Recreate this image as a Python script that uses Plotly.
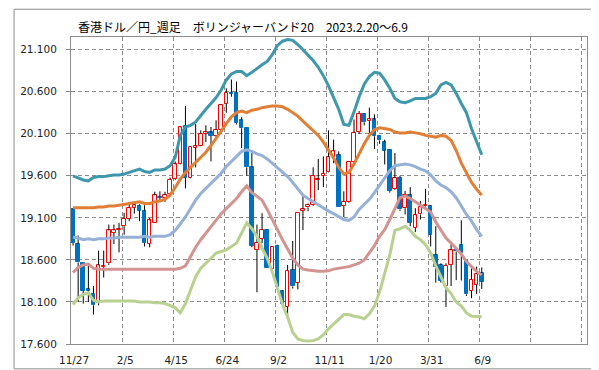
import plotly.graph_objects as go

# ---- data (weekly OHLC, index 0 = 11/27) ----
open_ = [19.20, 18.79, 18.56, 18.254, 18.20, 18.09, 18.515, 18.56, 18.92, 18.955,
         19.00, 19.09, 19.22, 19.24, 19.185, 18.79, 19.04, 19.35, 19.34, 19.38,
         19.56, 19.735, 20.195, 19.575, 19.935, 19.96, 20.10, 20.115, 20.075, 20.14,
         20.455, 20.59, 20.59, 20.26, 20.165, 19.70, 18.72, 18.85, 18.955, 18.49,
         18.77, 18.235, 18.04, 18.48, 18.33, 19.185, 19.225, 19.25, 19.55, 19.60,
         19.645, 19.82, 19.845, 19.24, 19.29, 19.765, 20.12, 20.335, 20.25, 20.27,
         20.075, 20.00, 19.905, 19.44, 19.575, 19.215, 19.37, 18.98, 19.14, 19.235,
         19.245, 18.66, 18.54, 18.285, 18.54, 18.72, 18.775, 18.60, 18.235, 18.305,
         18.445]
high = [19.21, 18.89, 18.56, 18.55, 18.29, 18.71, 18.71, 19.02, 19.02, 19.04,
        19.16, 19.29, 19.29, 19.26, 19.25, 19.10, 19.41, 19.415, 19.41, 19.58,
        19.77, 20.18, 20.43, 19.95, 20.215, 20.14, 20.20, 20.18, 20.26, 20.45,
        20.64, 20.745, 20.72, 20.30, 20.17, 19.87, 19.02, 19.155, 18.96, 18.76,
        18.78, 18.24, 18.54, 18.825, 19.16, 19.37, 19.27, 19.70, 19.80, 19.83,
        20.14, 20.03, 19.89, 19.415, 19.77, 20.27, 20.37, 20.34, 20.41, 20.33,
        20.08, 20.03, 19.91, 19.87, 19.60, 19.42, 19.465, 19.215, 19.30, 19.445,
        19.25, 19.00, 18.56, 18.56, 18.81, 18.74, 19.07, 18.60, 18.50, 18.52,
        18.51]
low = [18.77, 18.10, 18.08, 18.10, 17.95, 18.06, 18.39, 18.54, 18.79, 18.69,
       18.90, 19.06, 19.15, 19.06, 18.76, 18.75, 19.04, 19.29, 19.29, 19.37,
       19.55, 19.73, 19.45, 19.57, 19.70, 19.95, 20.00, 19.77, 20.05, 20.13,
       20.35, 20.54, 20.21, 19.93, 19.60, 18.75, 18.215, 18.80, 18.50, 18.465,
       18.27, 18.06, 17.91, 18.26, 18.25, 18.955, 19.18, 19.24, 19.43, 19.465,
       19.64, 19.75, 19.23, 19.11, 19.28, 19.76, 20.10, 20.20, 20.10, 19.92,
       19.98, 19.735, 19.40, 19.43, 19.18, 19.14, 19.00, 18.93, 19.08, 19.20,
       18.76, 18.33, 18.33, 18.04, 18.29, 18.36, 18.355, 18.17, 18.145, 18.195,
       18.255]
close = [18.80, 18.57, 18.235, 18.235, 18.06, 18.535, 18.53, 18.95, 18.95, 18.97,
         19.09, 19.215, 19.25, 19.185, 18.80, 19.07, 19.37, 19.34, 19.37, 19.555,
         19.735, 20.175, 19.575, 19.945, 19.95, 20.10, 20.115, 20.075, 20.145, 20.445,
         20.59, 20.575, 20.225, 20.165, 19.70, 18.77, 18.805, 18.955, 18.50, 18.755,
         18.28, 18.07, 18.466, 18.285, 19.16, 19.20, 19.255, 19.60, 19.56, 19.62,
         19.82, 19.89, 19.23, 19.29, 19.765, 20.11, 20.34, 20.235, 20.27, 20.07,
         20.02, 19.90, 19.425, 19.575, 19.20, 19.37, 19.04, 19.13, 19.225, 19.255,
         18.90, 18.515, 18.35, 18.53, 18.715, 18.70, 18.685, 18.19, 18.36, 18.43,
         18.34]

# ---- Bollinger band lines ----
upper2 = [19.60, 19.57, 19.55, 19.54, 19.58, 19.59, 19.59, 19.60, 19.61, 19.61,
          19.62, 19.64, 19.66, 19.68, 19.65, 19.64, 19.67, 19.67, 19.68, 19.72,
          19.82, 20.08, 20.18, 20.20, 20.24, 20.32, 20.39, 20.46, 20.53, 20.62,
          20.74, 20.81, 20.84, 20.84, 20.79, 20.83, 20.88, 20.92, 20.96, 21.04,
          21.15, 21.20, 21.22, 21.21, 21.16, 21.10, 21.03, 20.97, 20.89, 20.79,
          20.67, 20.53, 20.39, 20.21, 20.20, 20.36, 20.54, 20.69, 20.78, 20.83,
          20.82, 20.74, 20.64, 20.52, 20.48, 20.47, 20.49, 20.52, 20.52, 20.52,
          20.54, 20.58, 20.68, 20.71, 20.68, 20.58, 20.46, 20.35, 20.16, 20.00,
          19.85]
upper1 = [19.22, 19.22, 19.22, 19.22, 19.22, 19.23, 19.23, 19.24, 19.24, 19.25,
          19.26, 19.27, 19.28, 19.29, 19.27, 19.27, 19.29, 19.30, 19.32, 19.37,
          19.46, 19.56, 19.64, 19.70, 19.76, 19.82, 19.88, 19.96, 20.04, 20.13,
          20.22, 20.30, 20.35, 20.37, 20.35, 20.38, 20.39, 20.41, 20.42, 20.43,
          20.43, 20.42, 20.39, 20.35, 20.31, 20.25, 20.19, 20.14, 20.08, 20.00,
          19.91, 19.81, 19.70, 19.62, 19.64, 19.74, 19.86, 19.98, 20.08, 20.15,
          20.17, 20.16, 20.15, 20.12, 20.11, 20.11, 20.12, 20.11, 20.10, 20.08,
          20.07, 20.06, 20.08, 20.07, 20.02, 19.90, 19.75, 19.64, 19.52, 19.44,
          19.37]
middle = [18.87, 18.86, 18.84, 18.85, 18.84, 18.85, 18.85, 18.86, 18.86, 18.87,
          18.87, 18.87, 18.87, 18.87, 18.88, 18.87, 18.88, 18.88, 18.88, 18.90,
          18.95, 19.03, 19.11, 19.21, 19.31, 19.39, 19.45, 19.50, 19.56, 19.63,
          19.71, 19.77, 19.83, 19.89, 19.91, 19.89, 19.86, 19.84, 19.80, 19.75,
          19.69, 19.64, 19.59, 19.52, 19.44, 19.37, 19.33, 19.29, 19.25, 19.21,
          19.18, 19.15, 19.11, 19.08, 19.07, 19.11, 19.20, 19.26, 19.32, 19.40,
          19.49, 19.58, 19.66, 19.72, 19.73, 19.74, 19.73, 19.71, 19.68, 19.66,
          19.61, 19.54, 19.49, 19.46, 19.41, 19.34, 19.24, 19.14, 19.06, 18.96,
          18.88]
lower1 = [18.45, 18.51, 18.54, 18.55, 18.50, 18.49, 18.49, 18.49, 18.49, 18.49,
          18.49, 18.49, 18.49, 18.49, 18.49, 18.49, 18.49, 18.49, 18.49, 18.49,
          18.49, 18.50, 18.53, 18.64, 18.75, 18.84, 18.92, 18.99, 19.07, 19.15,
          19.21, 19.27, 19.33, 19.41, 19.48, 19.40, 19.35, 19.31, 19.20, 19.08,
          18.95, 18.84, 18.73, 18.62, 18.54, 18.49, 18.48, 18.47, 18.465, 18.465,
          18.47, 18.49, 18.50, 18.51, 18.52, 18.54, 18.56, 18.60, 18.68, 18.77,
          18.88, 18.96, 19.08, 19.22, 19.34, 19.36, 19.33, 19.29, 19.25, 19.22,
          19.17, 19.05, 18.95, 18.86, 18.80, 18.73, 18.67, 18.58, 18.52, 18.46,
          18.42]
lower2 = [18.07, 18.15, 18.19, 18.21, 18.12, 18.10, 18.11, 18.11, 18.11, 18.11,
          18.11, 18.11, 18.11, 18.10, 18.10, 18.10, 18.09, 18.09, 18.08, 18.06,
          18.03, 17.97, 18.08, 18.25, 18.40, 18.50, 18.56, 18.63, 18.68, 18.70,
          18.72, 18.76, 18.80, 18.92, 19.04, 18.97, 18.88, 18.74, 18.62, 18.46,
          18.25, 18.07, 17.92, 17.74, 17.66, 17.64, 17.635, 17.64, 17.66, 17.71,
          17.78, 17.84, 17.90, 17.95, 17.95, 17.93, 17.92, 17.90, 17.96, 18.05,
          18.22, 18.45, 18.66, 18.95, 18.97, 19.00, 18.95, 18.88, 18.84, 18.78,
          18.68, 18.53, 18.40, 18.27, 18.20, 18.10, 18.05, 17.97, 17.93, 17.925,
          17.925]

x_labels = ["11/27", "2/5", "4/15", "6/24", "9/2", "11/11", "1/20", "3/31", "6/9", "", ""]
y_ticks = [17.6, 18.1, 18.6, 19.1, 19.6, 20.1, 20.6, 21.1]
title_text = "香港ドル／円_週足　ボリンジャーバンド20　2023.2.20～6.9"

# ---- layout geometry ----
W, H = 599, 370
ML, MR, MT, MB = 58, 20, 29, 26
X_OFF = 0.4
n = len(close)
xs = [i + X_OFF for i in range(n)]

UP_LINE, DOWN_FILL = "#FF0000", "#0070C0"

fig = go.Figure()

# wicks (drawn outside the bodies)
wx, wy = [], []
for x, o, h, l, c in zip(xs, open_, high, low, close):
    lo, hi = min(o, c), max(o, c)
    if l < lo:
        wx += [x, x, None]
        wy += [l, lo, None]
    if h > hi:
        wx += [x, x, None]
        wy += [hi, h, None]
fig.add_trace(go.Scatter(x=wx, y=wy, mode="lines", line=dict(color="black", width=1),
                         hoverinfo="skip", showlegend=False))

# bodies
base = [min(o, c) for o, c in zip(open_, close)]
height = [max(abs(c - o), 0.008) for o, c in zip(open_, close)]
fill = ["white" if c >= o else DOWN_FILL for o, c in zip(open_, close)]
edge = [UP_LINE if c >= o else DOWN_FILL for o, c in zip(open_, close)]
fig.add_trace(go.Bar(x=xs, y=height, base=base, width=0.7,
                     marker=dict(color=fill, line=dict(color=edge, width=1)),
                     showlegend=False))

bands = [
    (upper2, "#3F97AC"),
    (upper1, "#E07F35"),
    (middle, "#96B0D8"),
    (lower1, "#D39390"),
    (lower2, "#B9D190"),
]
for vals, col in bands:
    fig.add_trace(go.Scatter(x=xs, y=vals, mode="lines",
                             line=dict(color=col, width=3, shape="linear"),
                             showlegend=False, hoverinfo="skip"))

grid_col = "#8C8C8C"
axis_col = "#8C8C8C"
tick_font = dict(family="DejaVu Sans", size=10.5, color="#222")

fig.update_layout(
    width=W, height=H,
    margin=dict(l=ML, r=MR, t=MT, b=MB, pad=0),
    paper_bgcolor="white", plot_bgcolor="white",
    bargap=0,
    xaxis=dict(
        range=[0, 101],
        tickmode="array",
        tickvals=[10 * k + 0.6 for k in range(len(x_labels))],
        ticktext=x_labels,
        showgrid=False,
        ticks="", tickfont=tick_font,
        ticklabelstandoff=6,
        showline=True, linecolor=axis_col, linewidth=1, mirror=True,
        zeroline=False,
        minor=dict(tickmode="array", tickvals=[10 * k for k in range(1, 11)],
                   showgrid=True, gridcolor=grid_col, gridwidth=1, griddash="4px,3px",
                   ticks=""),
    ),
    yaxis=dict(
        range=[17.6, 21.25],
        tickmode="array", tickvals=y_ticks,
        ticktext=[f"{v:.3f}" for v in y_ticks],
        showgrid=True, gridcolor=grid_col, gridwidth=1, griddash="4px,3px",
        ticks="outside", ticklen=4, tickcolor=axis_col,
        tickfont=tick_font, ticklabelstandoff=7,
        showline=True, linecolor=axis_col, linewidth=1, mirror=True,
        zeroline=False,
    ),
    annotations=[dict(
        text=title_text, xref="paper", yref="paper",
        x=(63 - ML) / (W - ML - MR), y=(H - MB - 18) / (H - MT - MB),
        xanchor="left", yanchor="middle", showarrow=False,
        font=dict(family="Noto Sans CJK JP", size=12, color="black"),
    )],
    shapes=[dict(
        type="rect", xref="paper", yref="paper", layer="above",
        x0=(0.5 - ML) / (W - ML - MR), x1=(W - 0.5 - ML) / (W - ML - MR),
        y0=-(MB - 0.5) / (H - MT - MB), y1=(H - MB - 0.5) / (H - MT - MB),
        line=dict(color="#8C8C8C", width=1),
    )],
)

fig.write_html("out.html")
